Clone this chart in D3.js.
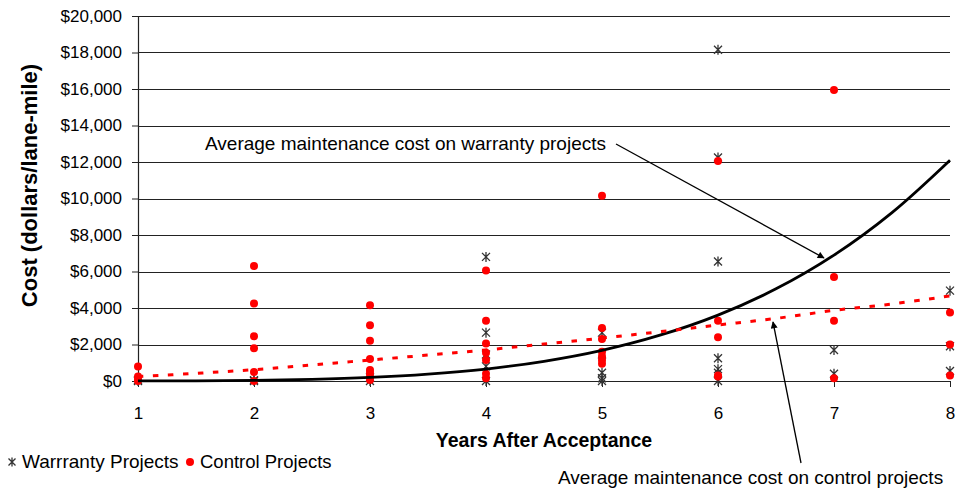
<!DOCTYPE html>
<html>
<head>
<meta charset="utf-8">
<script src="https://cdn.jsdelivr.net/npm/d3@7"></script>
<style>
  html, body { margin: 0; padding: 0; background: #fff; }
  svg { display: block; font-family: "Liberation Sans", Arial, sans-serif; }
</style>
</head>
<body>
<svg id="chart" width="956" height="491"></svg>
<script>
// Year after acceptance (x axis categories)
const years = [1, 2, 3, 4, 5, 6, 7, 8];
const yTicks = [0, 2000, 4000, 6000, 8000, 10000, 12000, 14000, 16000, 18000, 20000];

// Individual project costs ($/lane-mile), one list per year
const warrantyByYear = [
  [0, 50],
  [0, 50],
  [0, 200],
  [6800, 2650, 1450, 800, 0],
  [2650, 1450, 450, 150, 0],
  [18150, 12250, 6550, 1250, 650, 450, 0],
  [1700, 400],
  [4950, 1900, 550]
];
const controlByYear = [
  [800, 250, 100, 0],
  [6300, 4250, 2450, 1800, 500, 0],
  [4150, 3050, 2200, 1200, 600, 450, 250, 50],
  [6050, 3300, 2050, 1550, 1150, 400, 150],
  [10150, 2900, 2300, 1600, 1350, 1150, 950],
  [12050, 3300, 2400, 300, 250],
  [15950, 5700, 3300, 150],
  [3750, 2000, 300]
];

// Average maintenance cost curves
const avgYears = [1, 1.5, 2, 2.5, 3, 3.5, 4, 4.5, 5, 5.5, 6, 6.5, 7, 7.5, 8];
const warrantyAvg = [2, 10, 35, 90, 195, 375, 655, 1080, 1680, 2510, 3610, 5050, 6900, 9230, 12100];
const controlAvg = [240, 420, 620, 880, 1150, 1420, 1700, 2030, 2350, 2700, 3070, 3430, 3870, 4220, 4660];

const W = 956, H = 491;
const m = { left: 138, right: 6, top: 16, bottom: 110 };
const svg = d3.select("#chart");

const x = d3.scaleLinear().domain([1, 8]).range([m.left, W - m.right]);
const y = d3.scaleLinear().domain([0, 20000]).range([H - m.bottom, m.top]);
const fmt = d => "$" + d3.format(",")(d);

// Horizontal gridlines + y axis
const yAxis = svg.append("g")
  .attr("transform", `translate(${m.left},0)`)
  .call(d3.axisLeft(y).tickValues(yTicks).tickFormat(fmt).tickSize(6).tickPadding(10));
yAxis.select(".domain").attr("stroke", "#222").attr("stroke-width", 1.2);
yAxis.selectAll(".tick line").attr("stroke", "#222");
yAxis.selectAll(".tick text").attr("font-size", 17).attr("fill", "#000")
  .attr("font-family", "'Liberation Sans', Arial, sans-serif");

svg.append("g").selectAll("line.grid")
  .data(yTicks.filter(d => d > 0))
  .join("line")
  .attr("x1", m.left).attr("x2", W - m.right)
  .attr("y1", d => Math.round(y(d)) + 0.5).attr("y2", d => Math.round(y(d)) + 0.5)
  .attr("stroke", "#222").attr("stroke-width", 1);

// X axis
const xAxis = svg.append("g")
  .attr("transform", `translate(0,${H - m.bottom})`)
  .call(d3.axisBottom(x).tickValues(years).tickFormat(d3.format("d")).tickSize(6).tickSizeOuter(0).tickPadding(20));
xAxis.select(".domain").attr("stroke", "#222").attr("stroke-width", 1.2);
xAxis.selectAll(".tick line").attr("stroke", "#222");
xAxis.selectAll(".tick text").attr("font-size", 17).attr("fill", "#000")
  .attr("font-family", "'Liberation Sans', Arial, sans-serif");

// Axis titles
svg.append("text")
  .attr("x", 544).attr("y", 447)
  .attr("text-anchor", "middle")
  .attr("font-size", 19.5).attr("font-weight", "bold")
  .text("Years After Acceptance");

svg.append("text")
  .attr("transform", `translate(37,${(m.top + H - m.bottom) / 2 - 13}) rotate(-90)`)
  .attr("text-anchor", "middle")
  .attr("font-size", 22).attr("font-weight", "bold")
  .text("Cost (dollars/lane-mile)");

// Star marker (X with a vertical stroke)
function star(g, cx, cy, s) {
  const h = s / 2;
  g.append("path")
    .attr("d", `M${cx - h},${cy - h}L${cx + h},${cy + h}M${cx - h},${cy + h}L${cx + h},${cy - h}M${cx},${cy - h - 1}L${cx},${cy + h + 1}`)
    .attr("stroke", "#333").attr("stroke-width", 1.3).attr("fill", "none");
}

const flat = arr => arr.flatMap((vals, i) => vals.map(v => ({ year: years[i], v })));

const starLayer = svg.append("g");
flat(warrantyByYear).forEach(d => star(starLayer, x(d.year), y(d.v), 8));

svg.append("g").selectAll("circle")
  .data(flat(controlByYear))
  .join("circle")
  .attr("cx", d => x(d.year)).attr("cy", d => y(d.v))
  .attr("r", 4).attr("fill", "#ff0000");

// Average curves
const line = d3.line().curve(d3.curveCatmullRom.alpha(0.5)).x((d, i) => x(avgYears[i])).y(d => y(d));
svg.append("path").datum(warrantyAvg).attr("d", line)
  .attr("fill", "none").attr("stroke", "#000").attr("stroke-width", 2.8);
svg.append("path").datum(controlAvg).attr("d", line)
  .attr("fill", "none").attr("stroke", "#ff0000").attr("stroke-width", 3)
  .attr("stroke-dasharray", "5.5,9.5");

// Callouts
svg.append("defs").append("marker")
  .attr("id", "arrow").attr("viewBox", "0 0 10 10")
  .attr("refX", 9).attr("refY", 5)
  .attr("markerWidth", 9).attr("markerHeight", 7)
  .attr("markerUnits", "userSpaceOnUse")
  .attr("orient", "auto")
  .append("path").attr("d", "M0,0L10,5L0,10z").attr("fill", "#000");

svg.append("text")
  .attr("x", 205).attr("y", 150)
  .attr("font-size", 19)
  .text("Average maintenance cost on warranty projects");
svg.append("line")
  .attr("x1", 616).attr("y1", 144).attr("x2", 824).attr("y2", 258)
  .attr("stroke", "#000").attr("stroke-width", 1.3).attr("marker-end", "url(#arrow)");

svg.append("text")
  .attr("x", 558).attr("y", 484)
  .attr("font-size", 19)
  .text("Average maintenance cost on control projects");
svg.append("line")
  .attr("x1", 801).attr("y1", 463).attr("x2", 773).attr("y2", 322)
  .attr("stroke", "#000").attr("stroke-width", 1.3).attr("marker-end", "url(#arrow)");

// Legend
const lg = svg.append("g");
star(lg, 12, 462, 7);
lg.append("text").attr("x", 22).attr("y", 468).attr("font-size", 19).text("Warrranty Projects");
lg.append("circle").attr("cx", 190).attr("cy", 462).attr("r", 4).attr("fill", "#ff0000");
lg.append("text").attr("x", 200).attr("y", 468).attr("font-size", 18.5).text("Control Projects");
</script>
</body>
</html>
